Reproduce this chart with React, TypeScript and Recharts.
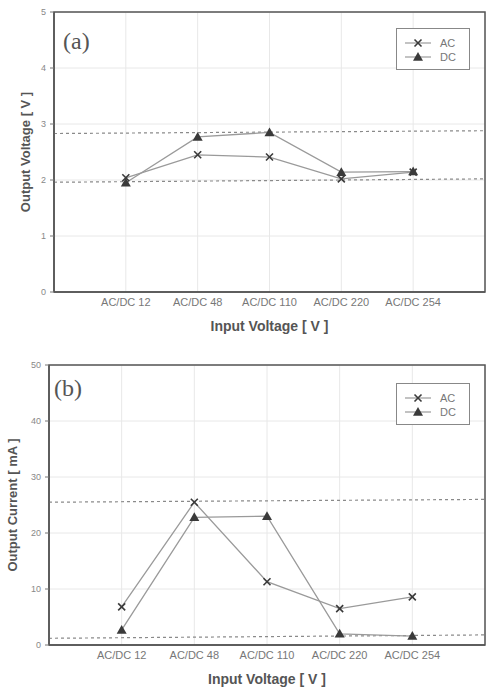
import React from 'react';
import {
  LineChart,
  Line,
  XAxis,
  YAxis,
  CartesianGrid,
  ReferenceLine,
  ReferenceArea,
} from 'recharts';

const categories = ['AC/DC 12', 'AC/DC 48', 'AC/DC 110', 'AC/DC 220', 'AC/DC 254'];
const voltageAC = [2.04, 2.45, 2.41, 2.02, 2.14];
const voltageDC = [1.95, 2.77, 2.85, 2.14, 2.15];
const currentAC = [6.8, 25.5, 11.3, 6.5, 8.6];
const currentDC = [2.7, 22.8, 23.0, 2.0, 1.6];
const voltageTicks = [0, 1, 2, 3, 4, 5];
const currentTicks = [0, 10, 20, 30, 40, 50];
const categoryTicks = [1, 2, 3, 4, 5];
const voltageRefs = [
  [2.83, 2.88],
  [1.96, 2.02],
];
const currentRefs = [
  [25.5, 26.0],
  [1.2, 1.8],
];

const voltageData = categories.map((c, i) => ({ x: i + 1, ac: voltageAC[i], dc: voltageDC[i] }));
const currentData = categories.map((c, i) => ({ x: i + 1, ac: currentAC[i], dc: currentDC[i] }));

const MARK = '#3a3a3a';
const LINE = '#9a9a9a';
const FONT = '"Liberation Sans", Arial, sans-serif';

const CrossDot = (props: any) => {
  const { cx, cy } = props;
  if (cx == null || cy == null) return null;
  const s = 3.5;
  return (
    <g>
      <line x1={cx - s} y1={cy - s} x2={cx + s} y2={cy + s} stroke={MARK} strokeWidth={1.6} />
      <line x1={cx - s} y1={cy + s} x2={cx + s} y2={cy - s} stroke={MARK} strokeWidth={1.6} />
    </g>
  );
};

const TriDot = (props: any) => {
  const { cx, cy } = props;
  if (cx == null || cy == null) return null;
  const s = 5;
  return <polygon points={`${cx},${cy - s} ${cx + s},${cy + s * 0.75} ${cx - s},${cy + s * 0.75}`} fill={MARK} />;
};

const LegendBox = ({ left, top }: { left: number; top: number }) => (
  <div
    style={{
      position: 'absolute',
      left,
      top,
      width: 72,
      height: 40,
      border: '1px solid #888',
      background: '#fff',
      fontFamily: FONT,
      fontSize: 11,
      color: '#777',
    }}
  >
    <svg width={72} height={40} style={{ position: 'absolute', left: 0, top: 0 }}>
      <line x1={8} y1={14} x2={34} y2={14} stroke={LINE} strokeWidth={1.2} />
      <CrossDot cx={21} cy={14} />
      <text x={43} y={18} fill="#777" fontSize={11} fontFamily={FONT}>AC</text>
      <line x1={8} y1={28} x2={34} y2={28} stroke={LINE} strokeWidth={1.2} />
      <TriDot cx={21} cy={28} />
      <text x={43} y={32} fill="#777" fontSize={11} fontFamily={FONT}>DC</text>
    </svg>
  </div>
);

type PanelProps = {
  top: number;
  height: number;
  data: any[];
  ticks: number[];
  refs: number[][];
  yLabel: string;
  tag: string;
  marginLeft: number;
  marginTop: number;
  marginBottom: number;
  yLabelOffset: number;
  legendTop: number;
  tagLeft: number;
  tagTop: number;
};

const Panel = (p: PanelProps) => {
  const yMax = p.ticks[p.ticks.length - 1];
  return (
    <div style={{ position: 'absolute', left: 0, top: p.top, width: 486, height: p.height }}>
      <LineChart
        width={486}
        height={p.height}
        data={p.data}
        margin={{ top: p.marginTop, right: 1, left: p.marginLeft, bottom: p.marginBottom }}
      >
        <CartesianGrid stroke="#e8e8e8" strokeWidth={1} />
        <XAxis
          dataKey="x"
          type="number"
          domain={[0, 6]}
          ticks={categoryTicks}
          tickFormatter={(v: number) => categories[v - 1]}
          interval={0}
          height={40}
          axisLine={{ stroke: '#555', strokeWidth: 1.5 }}
          tickLine={false}
          tickSize={4}
          tickMargin={2}
          tick={{ fill: '#777', fontSize: 11, fontFamily: FONT }}
          label={{
            value: 'Input Voltage [ V ]',
            position: 'insideBottom',
            offset: 1,
            style: { fill: '#555', fontSize: 14, fontWeight: 'bold', fontFamily: FONT },
          }}
        />
        <YAxis
          type="number"
          domain={[0, yMax]}
          ticks={p.ticks}
          width={40}
          axisLine={{ stroke: '#555', strokeWidth: 1.5 }}
          tickLine={{ stroke: '#777' }}
          tickSize={4}
          tickMargin={4}
          tick={{ fill: '#888', fontSize: 9, fontFamily: FONT }}
          label={{
            value: p.yLabel,
            angle: -90,
            position: 'insideLeft',
            offset: p.yLabelOffset,
            style: { textAnchor: 'middle', fill: '#555', fontSize: 13, fontWeight: 'bold', fontFamily: FONT },
          }}
        />
        <ReferenceArea x1={0} x2={6} y1={0} y2={yMax} fill="none" stroke="#555" strokeWidth={1.5} />
        {p.refs.map((r, i) => (
          <ReferenceLine
            key={i}
            segment={[
              { x: 0, y: r[0] },
              { x: 6, y: r[1] },
            ]}
            stroke="#8a8a8a"
            strokeWidth={1.2}
            strokeDasharray="3 3"
          />
        ))}
        <Line
          type="linear"
          dataKey="ac"
          stroke={LINE}
          strokeWidth={1.3}
          dot={<CrossDot />}
          activeDot={false}
          isAnimationActive={false}
        />
        <Line
          type="linear"
          dataKey="dc"
          stroke={LINE}
          strokeWidth={1.3}
          dot={<TriDot />}
          activeDot={false}
          isAnimationActive={false}
        />
      </LineChart>
      <div
        style={{
          position: 'absolute',
          left: p.tagLeft,
          top: p.tagTop,
          fontFamily: '"Liberation Serif", "Times New Roman", serif',
          fontSize: 24,
          color: '#555',
          lineHeight: 1,
        }}
      >
        {p.tag}
      </div>
      <LegendBox left={396} top={p.legendTop} />
    </div>
  );
};

export default function App() {
  return (
    <div style={{ position: 'absolute', left: 0, top: 0, width: 486, height: 690, background: '#fff' }}>
      <Panel
        top={0}
        height={340}
        data={voltageData}
        ticks={voltageTicks}
        refs={voltageRefs}
        yLabel="Output Voltage [ V ]"
        tag="(a)"
        marginLeft={14}
        marginTop={12}
        marginBottom={8}
        yLabelOffset={11}
        legendTop={28}
        tagLeft={63}
        tagTop={29}
      />
      <Panel
        top={340}
        height={350}
        data={currentData}
        ticks={currentTicks}
        refs={currentRefs}
        yLabel="Output Current [ mA ]"
        tag="(b)"
        marginLeft={9}
        marginTop={25}
        marginBottom={5}
        yLabelOffset={3}
        legendTop={43}
        tagLeft={54}
        tagTop={36}
      />
    </div>
  );
}
